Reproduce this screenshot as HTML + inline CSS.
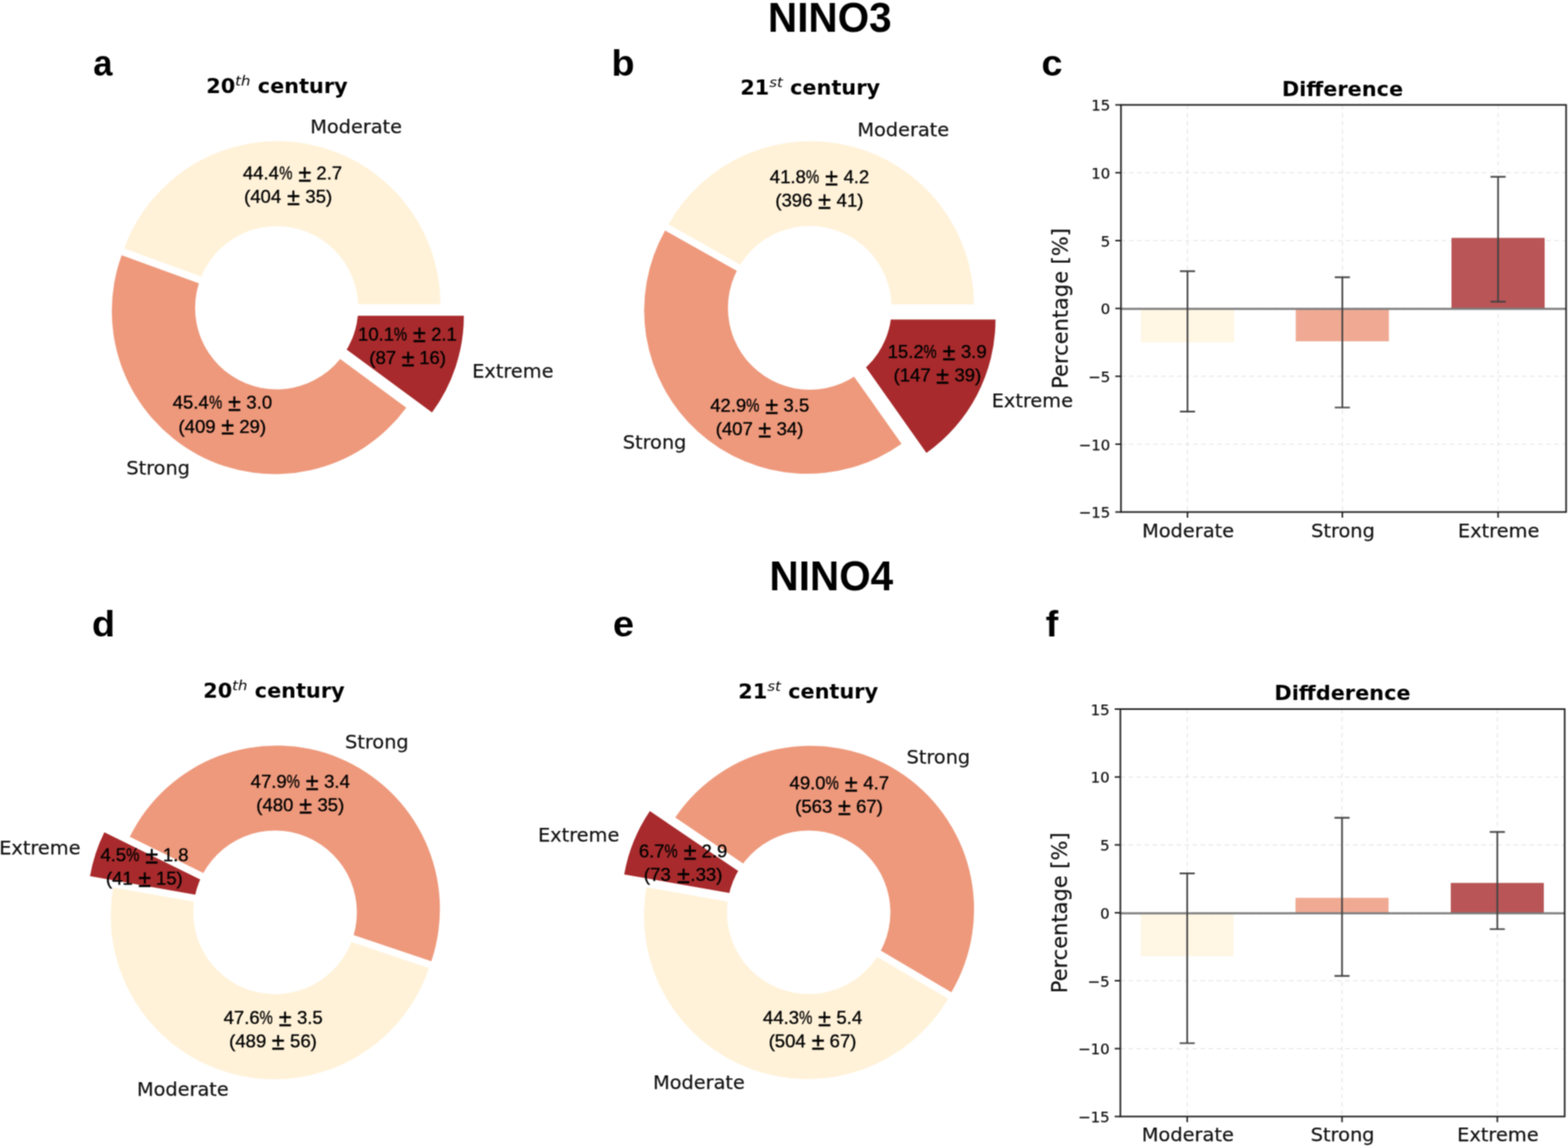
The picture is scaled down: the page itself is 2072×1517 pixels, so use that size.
<!DOCTYPE html>
<html lang="en">
<head>
<meta charset="utf-8">
<title>NINO3 / NINO4 event intensity</title>
<style>
html,body{margin:0;padding:0;background:#fff;}
body{width:2072px;height:1517px;overflow:hidden;}
svg{display:block;}
text{white-space:pre;}
.t{stroke:#111;stroke-width:0.25px;}
.v{stroke:#000;stroke-width:0.4px;}
</style>
</head>
<body>
<svg width="2072" height="1517" viewBox="0 0 2072 1517">
<defs><filter id="soft" x="0" y="0" width="2072" height="1517" filterUnits="userSpaceOnUse" color-interpolation-filters="sRGB"><feConvolveMatrix order="3" kernelMatrix="1 2 1 2 4 2 1 2 1" divisor="16" edgeMode="duplicate" preserveAlpha="false"/></filter></defs>
<rect width="2072" height="1517" fill="#fff"/>
<g filter="url(#soft)">
<path d="M366.42 402.03L582.02 402.03A215.60 215.60 0 0 0 163.83 328.29Z" fill="#fff2d9"/>
<path d="M363.36 410.88L160.76 337.14A215.60 215.60 0 0 0 536.90 538.81Z" fill="#ee997c"/>
<path d="M397.35 417.14L570.89 545.07A215.60 215.60 0 0 0 612.95 417.14Z" fill="#a82a2c"/>
<circle cx="365.6" cy="406.7" r="107.8" fill="#fff"/>
<path d="M1071.30 402.21L1287.00 402.21A215.70 215.70 0 0 0 883.33 296.42Z" fill="#fff2d9"/>
<path d="M1066.92 410.32L878.94 304.54A215.70 215.70 0 0 0 1191.33 586.53Z" fill="#ee997c"/>
<path d="M1099.79 422.18L1224.20 598.38A215.70 215.70 0 0 0 1315.49 422.18Z" fill="#a82a2c"/>
<circle cx="1070.1" cy="406.8" r="108.2" fill="#fff"/>
<path d="M362.32 1210.20L149.61 1172.70A216.00 216.00 0 0 0 566.99 1279.24Z" fill="#fff2d9"/>
<path d="M365.31 1201.21L569.98 1270.25A216.00 216.00 0 0 0 171.50 1105.84Z" fill="#ee997c"/>
<path d="M331.68 1195.20L137.87 1099.83A216.00 216.00 0 0 0 118.96 1157.69Z" fill="#a82a2c"/>
<circle cx="363.5" cy="1205.6" r="108.1" fill="#fff"/>
<path d="M1066.95 1209.96L854.24 1172.45A216.00 216.00 0 0 0 1253.03 1319.65Z" fill="#fff2d9"/>
<path d="M1071.14 1201.48L1257.21 1311.18A216.00 216.00 0 0 0 892.32 1080.32Z" fill="#ee997c"/>
<path d="M1037.57 1192.93L858.75 1071.77A216.00 216.00 0 0 0 824.85 1155.42Z" fill="#a82a2c"/>
<circle cx="1068.6" cy="1205.5" r="108.0" fill="#fff"/>
<text transform="translate(1096.5 42.3) scale(0.955 1)" font-family="'Liberation Sans','DejaVu Sans',sans-serif" font-size="56" font-weight="bold" text-anchor="middle" fill="#000">NINO3</text>
<text transform="translate(1098.5 780.3) scale(0.955 1)" font-family="'Liberation Sans','DejaVu Sans',sans-serif" font-size="56" font-weight="bold" text-anchor="middle" fill="#000">NINO4</text>
<text transform="translate(123.2 100.3) scale(0.94 1)" font-family="'Liberation Sans','DejaVu Sans',sans-serif" font-size="48.5" font-weight="bold" text-anchor="start" fill="#000">a</text>
<text transform="translate(808.1 100.3) scale(1.03 1)" font-family="'Liberation Sans','DejaVu Sans',sans-serif" font-size="48.5" font-weight="bold" text-anchor="start" fill="#000">b</text>
<text transform="translate(1376.3 100.3) scale(1.03 1)" font-family="'Liberation Sans','DejaVu Sans',sans-serif" font-size="48.5" font-weight="bold" text-anchor="start" fill="#000">c</text>
<text transform="translate(121.6 840.5) scale(1.03 1)" font-family="'Liberation Sans','DejaVu Sans',sans-serif" font-size="48.5" font-weight="bold" text-anchor="start" fill="#000">d</text>
<text transform="translate(810 840.5) scale(1.03 1)" font-family="'Liberation Sans','DejaVu Sans',sans-serif" font-size="48.5" font-weight="bold" text-anchor="start" fill="#000">e</text>
<text transform="translate(1381.7 840.5) scale(1.03 1)" font-family="'Liberation Sans','DejaVu Sans',sans-serif" font-size="48.5" font-weight="bold" text-anchor="start" fill="#000">f</text>
<text transform="translate(366 123.2) scale(1.06 1)" font-family="'DejaVu Sans','Liberation Sans',sans-serif" font-size="26" font-weight="bold" text-anchor="middle" fill="#000">20<tspan font-size="18.5" font-style="italic" font-weight="normal" dy="-10.5">th</tspan><tspan dy="10.5"> century</tspan></text>
<text transform="translate(1070.6 125.2) scale(1.06 1)" font-family="'DejaVu Sans','Liberation Sans',sans-serif" font-size="26" font-weight="bold" text-anchor="middle" fill="#000">21<tspan font-size="18.5" font-style="italic" font-weight="normal" dy="-10.5">st</tspan><tspan dy="10.5"> century</tspan></text>
<text transform="translate(362 922) scale(1.06 1)" font-family="'DejaVu Sans','Liberation Sans',sans-serif" font-size="26" font-weight="bold" text-anchor="middle" fill="#000">20<tspan font-size="18.5" font-style="italic" font-weight="normal" dy="-10.5">th</tspan><tspan dy="10.5"> century</tspan></text>
<text transform="translate(1068 923) scale(1.06 1)" font-family="'DejaVu Sans','Liberation Sans',sans-serif" font-size="26" font-weight="bold" text-anchor="middle" fill="#000">21<tspan font-size="18.5" font-style="italic" font-weight="normal" dy="-10.5">st</tspan><tspan dy="10.5"> century</tspan></text>
<text transform="translate(1774 127) scale(1.06 1)" font-family="'DejaVu Sans','Liberation Sans',sans-serif" font-size="26" font-weight="bold" text-anchor="middle" fill="#000">Difference</text>
<text transform="translate(1774 925) scale(1.06 1)" font-family="'DejaVu Sans','Liberation Sans',sans-serif" font-size="26" font-weight="bold" text-anchor="middle" fill="#000">Diffderence</text>
<text x="410" y="176" font-family="'DejaVu Sans','Liberation Sans',sans-serif" font-size="25.5" font-weight="normal" text-anchor="start" fill="#111" class="t">Moderate</text>
<text x="167" y="627" font-family="'DejaVu Sans','Liberation Sans',sans-serif" font-size="25.5" font-weight="normal" text-anchor="start" fill="#111" class="t">Strong</text>
<text x="624" y="499" font-family="'DejaVu Sans','Liberation Sans',sans-serif" font-size="25.5" font-weight="normal" text-anchor="start" fill="#111" class="t">Extreme</text>
<text x="1133" y="180" font-family="'DejaVu Sans','Liberation Sans',sans-serif" font-size="25.5" font-weight="normal" text-anchor="start" fill="#111" class="t">Moderate</text>
<text x="823" y="593" font-family="'DejaVu Sans','Liberation Sans',sans-serif" font-size="25.5" font-weight="normal" text-anchor="start" fill="#111" class="t">Strong</text>
<text x="1310.5" y="537.6" font-family="'DejaVu Sans','Liberation Sans',sans-serif" font-size="25.5" font-weight="normal" text-anchor="start" fill="#111" class="t">Extreme</text>
<text x="456" y="989" font-family="'DejaVu Sans','Liberation Sans',sans-serif" font-size="25.5" font-weight="normal" text-anchor="start" fill="#111" class="t">Strong</text>
<text x="-1" y="1129" font-family="'DejaVu Sans','Liberation Sans',sans-serif" font-size="25.5" font-weight="normal" text-anchor="start" fill="#111" class="t">Extreme</text>
<text x="181" y="1448" font-family="'DejaVu Sans','Liberation Sans',sans-serif" font-size="25.5" font-weight="normal" text-anchor="start" fill="#111" class="t">Moderate</text>
<text x="1198" y="1009" font-family="'DejaVu Sans','Liberation Sans',sans-serif" font-size="25.5" font-weight="normal" text-anchor="start" fill="#111" class="t">Strong</text>
<text x="711" y="1112" font-family="'DejaVu Sans','Liberation Sans',sans-serif" font-size="25.5" font-weight="normal" text-anchor="start" fill="#111" class="t">Extreme</text>
<text x="863" y="1439" font-family="'DejaVu Sans','Liberation Sans',sans-serif" font-size="25.5" font-weight="normal" text-anchor="start" fill="#111" class="t">Moderate</text>
<text y="237" font-family="'Liberation Sans','DejaVu Sans',sans-serif" font-size="24.5" fill="#000" class="v"><tspan x="320.97">44.4</tspan><tspan x="368.96" textLength="17.43" lengthAdjust="spacingAndGlyphs">%</tspan><tspan> </tspan><tspan x="394.15" dy="2.6" font-size="31.0">±</tspan><tspan> </tspan><tspan x="418.05" dy="-2.6">2.7</tspan></text>
<text y="268" font-family="'Liberation Sans','DejaVu Sans',sans-serif" font-size="24.5" fill="#000" class="v"><tspan x="322.50">(404</tspan><tspan> </tspan><tspan x="379.30" dy="2.6" font-size="31.0">±</tspan><tspan> </tspan><tspan x="403.50" dy="-2.6">35)</tspan></text>
<text y="540.4" font-family="'Liberation Sans','DejaVu Sans',sans-serif" font-size="24.5" fill="#000" class="v"><tspan x="228.16">45.4</tspan><tspan x="276.16" textLength="17.43" lengthAdjust="spacingAndGlyphs">%</tspan><tspan> </tspan><tspan x="301.34" dy="2.6" font-size="31.0">±</tspan><tspan> </tspan><tspan x="325.55" dy="-2.6">3.0</tspan></text>
<text y="571.6" font-family="'Liberation Sans','DejaVu Sans',sans-serif" font-size="24.5" fill="#000" class="v"><tspan x="235.86">(409</tspan><tspan> </tspan><tspan x="292.24" dy="2.6" font-size="31.0">±</tspan><tspan> </tspan><tspan x="316.13" dy="-2.6">29)</tspan></text>
<text y="449.8" font-family="'Liberation Sans','DejaVu Sans',sans-serif" font-size="24.5" fill="#000" class="v"><tspan x="473.04">10.1</tspan><tspan x="520.55" textLength="17.43" lengthAdjust="spacingAndGlyphs">%</tspan><tspan> </tspan><tspan x="545.73" dy="2.6" font-size="31.0">±</tspan><tspan> </tspan><tspan x="569.63" dy="-2.6">2.1</tspan></text>
<text y="481.4" font-family="'Liberation Sans','DejaVu Sans',sans-serif" font-size="24.5" fill="#000" class="v"><tspan x="488.03">(87</tspan><tspan> </tspan><tspan x="530.68" dy="2.6" font-size="31.0">±</tspan><tspan> </tspan><tspan x="553.97" dy="-2.6">16)</tspan></text>
<text y="242" font-family="'Liberation Sans','DejaVu Sans',sans-serif" font-size="24.5" fill="#000" class="v"><tspan x="1017.32">41.8</tspan><tspan x="1064.94" textLength="17.43" lengthAdjust="spacingAndGlyphs">%</tspan><tspan> </tspan><tspan x="1090.13" dy="2.6" font-size="31.0">±</tspan><tspan> </tspan><tspan x="1114.70" dy="-2.6">4.2</tspan></text>
<text y="273" font-family="'Liberation Sans','DejaVu Sans',sans-serif" font-size="24.5" fill="#000" class="v"><tspan x="1024.50">(396</tspan><tspan> </tspan><tspan x="1080.93" dy="2.6" font-size="31.0">±</tspan><tspan> </tspan><tspan x="1105.50" dy="-2.6">41)</tspan></text>
<text y="544" font-family="'Liberation Sans','DejaVu Sans',sans-serif" font-size="24.5" fill="#000" class="v"><tspan x="938.41">42.9</tspan><tspan x="985.97" textLength="17.43" lengthAdjust="spacingAndGlyphs">%</tspan><tspan> </tspan><tspan x="1011.16" dy="2.6" font-size="31.0">±</tspan><tspan> </tspan><tspan x="1035.36" dy="-2.6">3.5</tspan></text>
<text y="575" font-family="'Liberation Sans','DejaVu Sans',sans-serif" font-size="24.5" fill="#000" class="v"><tspan x="945.77">(407</tspan><tspan> </tspan><tspan x="1002.02" dy="2.6" font-size="31.0">±</tspan><tspan> </tspan><tspan x="1026.23" dy="-2.6">34)</tspan></text>
<text y="473" font-family="'Liberation Sans','DejaVu Sans',sans-serif" font-size="24.5" fill="#000" class="v"><tspan x="1172.89">15.2</tspan><tspan x="1220.33" textLength="17.43" lengthAdjust="spacingAndGlyphs">%</tspan><tspan> </tspan><tspan x="1245.51" dy="2.6" font-size="31.0">±</tspan><tspan> </tspan><tspan x="1269.72" dy="-2.6">3.9</tspan></text>
<text y="504" font-family="'Liberation Sans','DejaVu Sans',sans-serif" font-size="24.5" fill="#000" class="v"><tspan x="1180.77">(147</tspan><tspan> </tspan><tspan x="1237.02" dy="2.6" font-size="31.0">±</tspan><tspan> </tspan><tspan x="1261.23" dy="-2.6">39)</tspan></text>
<text y="1041" font-family="'Liberation Sans','DejaVu Sans',sans-serif" font-size="24.5" fill="#000" class="v"><tspan x="331.26">47.9</tspan><tspan x="378.82" textLength="17.43" lengthAdjust="spacingAndGlyphs">%</tspan><tspan> </tspan><tspan x="404.00" dy="2.6" font-size="31.0">±</tspan><tspan> </tspan><tspan x="428.21" dy="-2.6">3.4</tspan></text>
<text y="1072" font-family="'Liberation Sans','DejaVu Sans',sans-serif" font-size="24.5" fill="#000" class="v"><tspan x="338.62">(480</tspan><tspan> </tspan><tspan x="395.17" dy="2.6" font-size="31.0">±</tspan><tspan> </tspan><tspan x="419.38" dy="-2.6">35)</tspan></text>
<text y="1138" font-family="'Liberation Sans','DejaVu Sans',sans-serif" font-size="24.5" fill="#000" class="v"><tspan x="132.64">4.5</tspan><tspan x="166.73" textLength="17.43" lengthAdjust="spacingAndGlyphs">%</tspan><tspan> </tspan><tspan x="191.91" dy="2.6" font-size="31.0">±</tspan><tspan> </tspan><tspan x="215.20" dy="-2.6">1.8</tspan></text>
<text y="1169" font-family="'Liberation Sans','DejaVu Sans',sans-serif" font-size="24.5" fill="#000" class="v"><tspan x="140.00">(41</tspan><tspan> </tspan><tspan x="182.71" dy="2.6" font-size="31.0">±</tspan><tspan> </tspan><tspan x="206.00" dy="-2.6">15)</tspan></text>
<text y="1353" font-family="'Liberation Sans','DejaVu Sans',sans-serif" font-size="24.5" fill="#000" class="v"><tspan x="295.38">47.6</tspan><tspan x="343.00" textLength="17.43" lengthAdjust="spacingAndGlyphs">%</tspan><tspan> </tspan><tspan x="368.19" dy="2.6" font-size="31.0">±</tspan><tspan> </tspan><tspan x="392.39" dy="-2.6">3.5</tspan></text>
<text y="1384" font-family="'Liberation Sans','DejaVu Sans',sans-serif" font-size="24.5" fill="#000" class="v"><tspan x="302.74">(489</tspan><tspan> </tspan><tspan x="359.11" dy="2.6" font-size="31.0">±</tspan><tspan> </tspan><tspan x="383.26" dy="-2.6">56)</tspan></text>
<text y="1043" font-family="'Liberation Sans','DejaVu Sans',sans-serif" font-size="24.5" fill="#000" class="v"><tspan x="1043.26">49.0</tspan><tspan x="1091.00" textLength="17.43" lengthAdjust="spacingAndGlyphs">%</tspan><tspan> </tspan><tspan x="1116.19" dy="2.6" font-size="31.0">±</tspan><tspan> </tspan><tspan x="1140.76" dy="-2.6">4.7</tspan></text>
<text y="1074" font-family="'Liberation Sans','DejaVu Sans',sans-serif" font-size="24.5" fill="#000" class="v"><tspan x="1050.83">(563</tspan><tspan> </tspan><tspan x="1107.27" dy="2.6" font-size="31.0">±</tspan><tspan> </tspan><tspan x="1131.17" dy="-2.6">67)</tspan></text>
<text y="1133" font-family="'Liberation Sans','DejaVu Sans',sans-serif" font-size="24.5" fill="#000" class="v"><tspan x="844.15">6.7</tspan><tspan x="877.99" textLength="17.43" lengthAdjust="spacingAndGlyphs">%</tspan><tspan> </tspan><tspan x="903.18" dy="2.6" font-size="31.0">±</tspan><tspan> </tspan><tspan x="927.08" dy="-2.6">2.9</tspan></text>
<text y="1164" font-family="'Liberation Sans','DejaVu Sans',sans-serif" font-size="24.5" fill="#000" class="v"><tspan x="850.85">(73</tspan><tspan> </tspan><tspan x="894.69" dy="2.6" font-size="31.0">±</tspan><tspan></tspan><tspan x="912.35" dy="-2.6">.33)</tspan></text>
<text y="1353" font-family="'Liberation Sans','DejaVu Sans',sans-serif" font-size="24.5" fill="#000" class="v"><tspan x="1008.26">44.3</tspan><tspan x="1055.88" textLength="17.43" lengthAdjust="spacingAndGlyphs">%</tspan><tspan> </tspan><tspan x="1081.07" dy="2.6" font-size="31.0">±</tspan><tspan> </tspan><tspan x="1105.21" dy="-2.6">5.4</tspan></text>
<text y="1384" font-family="'Liberation Sans','DejaVu Sans',sans-serif" font-size="24.5" fill="#000" class="v"><tspan x="1015.65">(504</tspan><tspan> </tspan><tspan x="1072.45" dy="2.6" font-size="31.0">±</tspan><tspan> </tspan><tspan x="1096.35" dy="-2.6">67)</tspan></text>
<line x1="1481.3" x2="2069.5" y1="586.93" y2="586.93" stroke="#d4d4d4" stroke-width="1.5" stroke-dasharray="6 4.6" opacity="0.5"/>
<line x1="1481.3" x2="2069.5" y1="497.27" y2="497.27" stroke="#d4d4d4" stroke-width="1.5" stroke-dasharray="6 4.6" opacity="0.5"/>
<line x1="1481.3" x2="2069.5" y1="407.60" y2="407.60" stroke="#d4d4d4" stroke-width="1.5" stroke-dasharray="6 4.6" opacity="0.5"/>
<line x1="1481.3" x2="2069.5" y1="317.93" y2="317.93" stroke="#d4d4d4" stroke-width="1.5" stroke-dasharray="6 4.6" opacity="0.5"/>
<line x1="1481.3" x2="2069.5" y1="228.27" y2="228.27" stroke="#d4d4d4" stroke-width="1.5" stroke-dasharray="6 4.6" opacity="0.5"/>
<line x1="1569.20" x2="1569.20" y1="138.6" y2="676.6" stroke="#d4d4d4" stroke-width="1.5" stroke-dasharray="6 4.6" opacity="0.5"/>
<line x1="1773.80" x2="1773.80" y1="138.6" y2="676.6" stroke="#d4d4d4" stroke-width="1.5" stroke-dasharray="6 4.6" opacity="0.5"/>
<line x1="1979.60" x2="1979.60" y1="138.6" y2="676.6" stroke="#d4d4d4" stroke-width="1.5" stroke-dasharray="6 4.6" opacity="0.5"/>
<rect x="1507.64" y="407.60" width="123.12" height="44.83" fill="#fff6e4"/>
<rect x="1712.24" y="407.60" width="123.12" height="43.40" fill="#f0aa93"/>
<rect x="1918.04" y="314.35" width="123.12" height="93.25" fill="#b95556"/>
<line x1="1481.3" x2="2069.5" y1="408.20" y2="408.20" stroke="#7d7d7d" stroke-width="2.8"/>
<path d="M1569.20 358.28V543.89M1559.20 358.28h20M1559.20 543.89h20" stroke="#424242" stroke-width="2.2" fill="none"/>
<path d="M1773.80 366.35V538.51M1763.80 366.35h20M1763.80 538.51h20" stroke="#424242" stroke-width="2.2" fill="none"/>
<path d="M1979.60 233.65V398.63M1969.60 233.65h20M1969.60 398.63h20" stroke="#424242" stroke-width="2.2" fill="none"/>
<line x1="1473.8" x2="1481.3" y1="676.60" y2="676.60" stroke="#1f1f1f" stroke-width="2"/>
<text x="1467.2" y="684.30" font-family="'DejaVu Sans','Liberation Sans',sans-serif" font-size="19.8" font-weight="normal" text-anchor="end" fill="#111" class="t">−15</text>
<line x1="1473.8" x2="1481.3" y1="586.93" y2="586.93" stroke="#1f1f1f" stroke-width="2"/>
<text x="1467.2" y="594.63" font-family="'DejaVu Sans','Liberation Sans',sans-serif" font-size="19.8" font-weight="normal" text-anchor="end" fill="#111" class="t">−10</text>
<line x1="1473.8" x2="1481.3" y1="497.27" y2="497.27" stroke="#1f1f1f" stroke-width="2"/>
<text x="1467.2" y="504.97" font-family="'DejaVu Sans','Liberation Sans',sans-serif" font-size="19.8" font-weight="normal" text-anchor="end" fill="#111" class="t">−5</text>
<line x1="1473.8" x2="1481.3" y1="407.60" y2="407.60" stroke="#1f1f1f" stroke-width="2"/>
<text x="1467.2" y="415.30" font-family="'DejaVu Sans','Liberation Sans',sans-serif" font-size="19.8" font-weight="normal" text-anchor="end" fill="#111" class="t">0</text>
<line x1="1473.8" x2="1481.3" y1="317.93" y2="317.93" stroke="#1f1f1f" stroke-width="2"/>
<text x="1467.2" y="325.63" font-family="'DejaVu Sans','Liberation Sans',sans-serif" font-size="19.8" font-weight="normal" text-anchor="end" fill="#111" class="t">5</text>
<line x1="1473.8" x2="1481.3" y1="228.27" y2="228.27" stroke="#1f1f1f" stroke-width="2"/>
<text x="1467.2" y="235.97" font-family="'DejaVu Sans','Liberation Sans',sans-serif" font-size="19.8" font-weight="normal" text-anchor="end" fill="#111" class="t">10</text>
<line x1="1473.8" x2="1481.3" y1="138.60" y2="138.60" stroke="#1f1f1f" stroke-width="2"/>
<text x="1467.2" y="146.30" font-family="'DejaVu Sans','Liberation Sans',sans-serif" font-size="19.8" font-weight="normal" text-anchor="end" fill="#111" class="t">15</text>
<line x1="1569.20" x2="1569.20" y1="676.6" y2="684.1" stroke="#1f1f1f" stroke-width="2"/>
<text x="1570.00" y="709.6" font-family="'DejaVu Sans','Liberation Sans',sans-serif" font-size="25.6" font-weight="normal" text-anchor="middle" fill="#111" class="t">Moderate</text>
<line x1="1773.80" x2="1773.80" y1="676.6" y2="684.1" stroke="#1f1f1f" stroke-width="2"/>
<text x="1774.60" y="709.6" font-family="'DejaVu Sans','Liberation Sans',sans-serif" font-size="25.6" font-weight="normal" text-anchor="middle" fill="#111" class="t">Strong</text>
<line x1="1979.60" x2="1979.60" y1="676.6" y2="684.1" stroke="#1f1f1f" stroke-width="2"/>
<text x="1980.40" y="709.6" font-family="'DejaVu Sans','Liberation Sans',sans-serif" font-size="25.6" font-weight="normal" text-anchor="middle" fill="#111" class="t">Extreme</text>
<rect x="1481.3" y="138.6" width="588.2" height="538.0" fill="none" stroke="#1f1f1f" stroke-width="2.1"/>
<text transform="translate(1410.8 407.6) rotate(-90)" font-family="'DejaVu Sans','Liberation Sans',sans-serif" font-size="27.7" text-anchor="middle" fill="#111" class="t">Percentage [%]</text>
<line x1="1480.5" x2="2067.6" y1="1385.67" y2="1385.67" stroke="#d4d4d4" stroke-width="1.5" stroke-dasharray="6 4.6" opacity="0.5"/>
<line x1="1480.5" x2="2067.6" y1="1295.93" y2="1295.93" stroke="#d4d4d4" stroke-width="1.5" stroke-dasharray="6 4.6" opacity="0.5"/>
<line x1="1480.5" x2="2067.6" y1="1206.20" y2="1206.20" stroke="#d4d4d4" stroke-width="1.5" stroke-dasharray="6 4.6" opacity="0.5"/>
<line x1="1480.5" x2="2067.6" y1="1116.47" y2="1116.47" stroke="#d4d4d4" stroke-width="1.5" stroke-dasharray="6 4.6" opacity="0.5"/>
<line x1="1480.5" x2="2067.6" y1="1026.73" y2="1026.73" stroke="#d4d4d4" stroke-width="1.5" stroke-dasharray="6 4.6" opacity="0.5"/>
<line x1="1568.80" x2="1568.80" y1="937" y2="1475.4" stroke="#d4d4d4" stroke-width="1.5" stroke-dasharray="6 4.6" opacity="0.5"/>
<line x1="1773.40" x2="1773.40" y1="937" y2="1475.4" stroke="#d4d4d4" stroke-width="1.5" stroke-dasharray="6 4.6" opacity="0.5"/>
<line x1="1978.60" x2="1978.60" y1="937" y2="1475.4" stroke="#d4d4d4" stroke-width="1.5" stroke-dasharray="6 4.6" opacity="0.5"/>
<rect x="1507.33" y="1206.20" width="122.94" height="57.43" fill="#fff6e4"/>
<rect x="1711.93" y="1186.46" width="122.94" height="19.74" fill="#f0aa93"/>
<rect x="1917.13" y="1166.72" width="122.94" height="39.48" fill="#b95556"/>
<line x1="1480.5" x2="2067.6" y1="1206.80" y2="1206.80" stroke="#7d7d7d" stroke-width="2.8"/>
<path d="M1568.80 1154.15V1378.49M1558.80 1154.15h20M1558.80 1378.49h20" stroke="#424242" stroke-width="2.2" fill="none"/>
<path d="M1773.40 1080.57V1289.65M1763.40 1080.57h20M1763.40 1289.65h20" stroke="#424242" stroke-width="2.2" fill="none"/>
<path d="M1978.60 1099.42V1227.74M1968.60 1099.42h20M1968.60 1227.74h20" stroke="#424242" stroke-width="2.2" fill="none"/>
<line x1="1473.0" x2="1480.5" y1="1475.40" y2="1475.40" stroke="#1f1f1f" stroke-width="2"/>
<text x="1466.4" y="1483.10" font-family="'DejaVu Sans','Liberation Sans',sans-serif" font-size="19.8" font-weight="normal" text-anchor="end" fill="#111" class="t">−15</text>
<line x1="1473.0" x2="1480.5" y1="1385.67" y2="1385.67" stroke="#1f1f1f" stroke-width="2"/>
<text x="1466.4" y="1393.37" font-family="'DejaVu Sans','Liberation Sans',sans-serif" font-size="19.8" font-weight="normal" text-anchor="end" fill="#111" class="t">−10</text>
<line x1="1473.0" x2="1480.5" y1="1295.93" y2="1295.93" stroke="#1f1f1f" stroke-width="2"/>
<text x="1466.4" y="1303.63" font-family="'DejaVu Sans','Liberation Sans',sans-serif" font-size="19.8" font-weight="normal" text-anchor="end" fill="#111" class="t">−5</text>
<line x1="1473.0" x2="1480.5" y1="1206.20" y2="1206.20" stroke="#1f1f1f" stroke-width="2"/>
<text x="1466.4" y="1213.90" font-family="'DejaVu Sans','Liberation Sans',sans-serif" font-size="19.8" font-weight="normal" text-anchor="end" fill="#111" class="t">0</text>
<line x1="1473.0" x2="1480.5" y1="1116.47" y2="1116.47" stroke="#1f1f1f" stroke-width="2"/>
<text x="1466.4" y="1124.17" font-family="'DejaVu Sans','Liberation Sans',sans-serif" font-size="19.8" font-weight="normal" text-anchor="end" fill="#111" class="t">5</text>
<line x1="1473.0" x2="1480.5" y1="1026.73" y2="1026.73" stroke="#1f1f1f" stroke-width="2"/>
<text x="1466.4" y="1034.43" font-family="'DejaVu Sans','Liberation Sans',sans-serif" font-size="19.8" font-weight="normal" text-anchor="end" fill="#111" class="t">10</text>
<line x1="1473.0" x2="1480.5" y1="937.00" y2="937.00" stroke="#1f1f1f" stroke-width="2"/>
<text x="1466.4" y="944.70" font-family="'DejaVu Sans','Liberation Sans',sans-serif" font-size="19.8" font-weight="normal" text-anchor="end" fill="#111" class="t">15</text>
<line x1="1568.80" x2="1568.80" y1="1475.4" y2="1482.9" stroke="#1f1f1f" stroke-width="2"/>
<text x="1569.60" y="1508.4" font-family="'DejaVu Sans','Liberation Sans',sans-serif" font-size="25.6" font-weight="normal" text-anchor="middle" fill="#111" class="t">Moderate</text>
<line x1="1773.40" x2="1773.40" y1="1475.4" y2="1482.9" stroke="#1f1f1f" stroke-width="2"/>
<text x="1774.20" y="1508.4" font-family="'DejaVu Sans','Liberation Sans',sans-serif" font-size="25.6" font-weight="normal" text-anchor="middle" fill="#111" class="t">Strong</text>
<line x1="1978.60" x2="1978.60" y1="1475.4" y2="1482.9" stroke="#1f1f1f" stroke-width="2"/>
<text x="1979.40" y="1508.4" font-family="'DejaVu Sans','Liberation Sans',sans-serif" font-size="25.6" font-weight="normal" text-anchor="middle" fill="#111" class="t">Extreme</text>
<rect x="1480.5" y="937" width="587.0999999999999" height="538.4000000000001" fill="none" stroke="#1f1f1f" stroke-width="2.1"/>
<text transform="translate(1410.0 1206.2) rotate(-90)" font-family="'DejaVu Sans','Liberation Sans',sans-serif" font-size="27.7" text-anchor="middle" fill="#111" class="t">Percentage [%]</text>
</g>
</svg>
</body>
</html>
